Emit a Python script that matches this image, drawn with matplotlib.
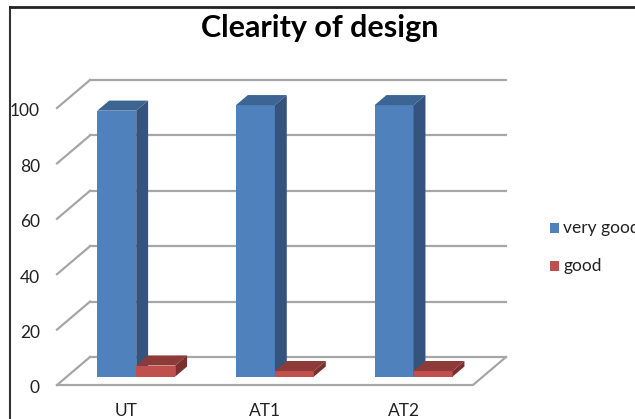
import matplotlib
matplotlib.use("Agg")
import matplotlib.pyplot as plt
from matplotlib.patches import Polygon, Rectangle
from matplotlib.lines import Line2D

plt.rcParams["font.family"] = ["Lato", "DejaVu Sans"]

# ---- data ----
categories = ["UT", "AT1", "AT2"]
series_names = ["very good", "good"]
very_good = [96, 98, 98]
good = [4, 2, 2]
y_ticks = [0, 20, 40, 60, 80, 100]
title = "Clearity of design"

# ---- styling ----
front_cols = ["#4F81BD", "#C0504D"]
top_cols = ["#3C6594", "#8E3A38"]
side_cols = ["#34547E", "#7A302E"]
grid_col = "#A6A6A6"

W, H = 635, 419
fig = plt.figure(figsize=(W / 100, H / 100), dpi=100)
ax = fig.add_axes([0, 0, 1, 1])

# oblique 3-D frame in data units (x: category units, y: value units)
px_x = 138.67          # pixels per category
px_y = 2.77            # pixels per value unit
x0_px, y0_px = 57, 385  # front-left floor corner in pixels
ax.set_xlim(-x0_px / px_x, (W - x0_px) / px_x)
ax.set_ylim(-(H - y0_px) / px_y, y0_px / px_y)
ax.axis("off")

dx = 33 / px_x        # depth direction, x component
dy = 28 / px_y        # depth direction, y component
n = len(categories)

# back wall gridlines and left wall diagonals
for v in y_ticks:
    ax.add_line(Line2D([dx, n + dx], [v + dy, v + dy], color=grid_col, lw=1.6, zorder=1))
    ax.add_line(Line2D([0, dx], [v, v + dy], color=grid_col, lw=1.6, zorder=1))
# floor front and right edges
ax.add_line(Line2D([0, n, n + dx], [0, 0, dy], color=grid_col, lw=1.6, zorder=1))

# bars
bw = 0.281          # bar width in category units
d_front = 0.30      # front face depth fraction
d_len = 0.36        # bar depth fraction
sx, sy = d_front * dx, d_front * dy
ddx, ddy = d_len * dx, d_len * dy
z = 2
for i in range(n):
    c = i + 0.5 + sx
    for k, vals in enumerate([very_good, good]):
        v = vals[i]
        xl = c - bw if k == 0 else c
        xr = xl + bw
        base = sy
        top = sy + v
        ax.add_patch(Rectangle((xl, base), bw, v, facecolor=front_cols[k],
                               edgecolor="none", zorder=z))
        ax.add_patch(Polygon([(xl, top), (xr, top), (xr + ddx, top + ddy),
                              (xl + ddx, top + ddy)], closed=True,
                             facecolor=top_cols[k], edgecolor="none", zorder=z))
        ax.add_patch(Polygon([(xr, base), (xr, top), (xr + ddx, top + ddy),
                              (xr + ddx, base + ddy)], closed=True,
                             facecolor=side_cols[k], edgecolor="none", zorder=z))
        z += 1

# value axis labels
for v in y_ticks:
    ax.text(-17 / px_x, v - 1.2, str(v), ha="right", va="center",
            fontsize=12.5, color="#222222")

# category labels
for i, cat in enumerate(categories):
    ax.text(i + 0.5, -26 / px_y, cat, ha="center", va="center",
            fontsize=12.5, color="#222222")

# legend
for k, name in enumerate(series_names):
    yc = 1 - (228 + 38 * k) / H
    fig.patches.append(Rectangle((550 / W, yc - 5 / H), 9 / W, 10 / H,
                                 transform=fig.transFigure, facecolor=front_cols[k],
                                 edgecolor="none"))
    fig.text(563 / W, yc, name, ha="left", va="center", fontsize=12.5, color="#222222")

fig.text(320 / W, 1 - 28 / H, title, ha="center", va="center",
         fontsize=22, fontweight="bold", color="black")

# chart area border
fig.add_artist(Line2D([10 / W, 10 / W], [0, 1 - 7 / H], transform=fig.transFigure,
                      color="#333333", lw=1.5))
fig.add_artist(Line2D([10 / W, 1], [1 - 7 / H, 1 - 7 / H], transform=fig.transFigure,
                      color="#222222", lw=2))

fig.savefig("out.png", dpi=100, facecolor="white")
